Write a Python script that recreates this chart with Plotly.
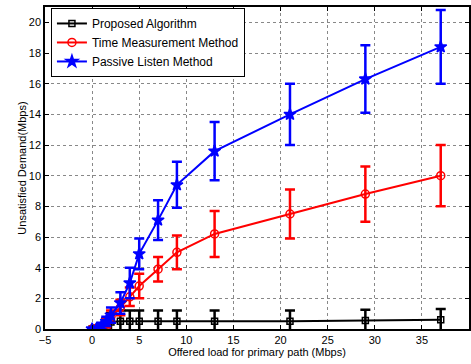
import plotly.graph_objects as go

x = [0, 0.5, 1, 1.5, 2, 3, 4, 5, 7, 9, 13, 21, 29, 37]

proposed_y = [0, 0.05, 0.15, 0.3, 0.45, 0.5, 0.5, 0.5, 0.5, 0.5, 0.5, 0.5, 0.55, 0.6]
proposed_err = [0.05, 0.1, 0.15, 0.4, 0.6, 0.7, 0.7, 0.7, 0.7, 0.7, 0.7, 0.7, 0.7, 0.7]

time_y = [0, 0.05, 0.15, 0.4, 0.8, 1.4, 2.1, 2.8, 3.9, 5.0, 6.2, 7.5, 8.8, 10.0]
time_err = [0.05, 0.1, 0.15, 0.3, 0.4, 0.5, 0.6, 0.8, 0.8, 1.1, 1.5, 1.6, 1.8, 2.0]

passive_y = [0, 0.05, 0.2, 0.5, 0.9, 1.7, 3.0, 4.9, 7.1, 9.4, 11.6, 14.0, 16.3, 18.4]
passive_err = [0.05, 0.1, 0.2, 0.3, 0.5, 0.7, 1.0, 1.0, 1.3, 1.5, 1.9, 2.0, 2.2, 2.4]

series = [
    ("Proposed Algorithm", proposed_y, proposed_err, "black", "square-open", 6),
    ("Time Measurement Method", time_y, time_err, "red", "circle-open", 8),
    ("Passive Listen Method", passive_y, passive_err, "blue", "star", 9),
]

fig = go.Figure()
for name, y, err, color, sym, size in series:
    fig.add_trace(go.Scatter(
        x=x, y=y, name=name, mode="lines+markers",
        line=dict(color=color, width=2),
        marker=dict(symbol=sym, size=size, color=color, line=dict(color=color, width=1.5)),
        error_y=dict(type="data", array=err, visible=True, color=color, thickness=2.5, width=5),
    ))

axis_common = dict(
    showline=True, linecolor="black", linewidth=1.5, mirror="ticks",
    ticks="inside", ticklen=4, tickcolor="black",
    showgrid=True, gridcolor="#888888", griddash="dot", gridwidth=1,
    zeroline=False, automargin=False,
    tickfont=dict(family="Liberation Sans, Arial, sans-serif", size=11, color="black"),
)

fig.update_layout(
    width=471, height=364,
    margin=dict(l=45, r=2, t=7, b=35, pad=0),
    paper_bgcolor="white", plot_bgcolor="white",
    font=dict(family="Liberation Sans, Arial, sans-serif", size=11, color="black"),
    xaxis=dict(range=[-5, 40], dtick=5, tick0=-5,
               title=dict(text="Offered load for primary path (Mbps)", standoff=0,
                          font=dict(size=11)),
               **axis_common),
    yaxis=dict(range=[0, 21], dtick=2, tick0=0,
               title=dict(text="Unsatisfied Demand(Mbps)", standoff=0, font=dict(size=11)),
               **axis_common),
    legend=dict(x=0.014, y=0.997, xanchor="left", yanchor="top",
                bgcolor="white", bordercolor="black", borderwidth=1,
                font=dict(size=12), tracegroupgap=0, itemwidth=30),
    showlegend=True,
)

fig.write_html("out.html", config={"displayModeBar": False},
               post_script="document.body.style.margin='0';document.body.style.overflow='hidden';")
